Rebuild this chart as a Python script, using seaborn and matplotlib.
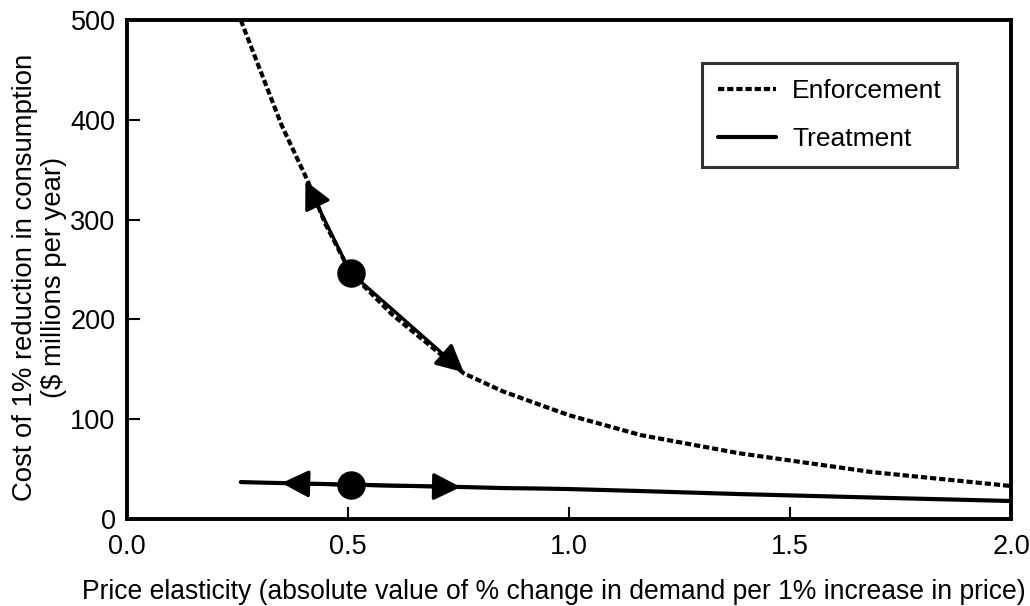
import pandas as pd
import matplotlib
matplotlib.use("Agg")
import matplotlib.pyplot as plt
from matplotlib.lines import Line2D
import seaborn as sns

# values
elasticity = [0.258, 0.30, 0.35, 0.408, 0.45, 0.506, 0.60, 0.762, 0.85, 0.937, 1.00, 1.163, 1.383, 1.685, 2.00]
enforcement = [500, 452, 395, 340, 295, 247, 205, 146, 128, 114, 104, 84, 66, 47, 33]
treatment = [37, 36.5, 36, 35.5, 35, 34.5, 33.5, 32, 31, 30.5, 30, 28, 25, 21.5, 18]

# point estimates at elasticity 0.5 and the arrow ends
enf_point = (0.506, 247)
enf_arrows = [(0.404, 339), (0.762, 147)]
trt_point = (0.506, 34)
trt_arrows = [(0.35, 36), (0.755, 32)]

df = pd.DataFrame({
    "Price elasticity": elasticity * 2,
    "Cost": enforcement + treatment,
    "Program": ["Enforcement"] * len(elasticity) + ["Treatment"] * len(elasticity),
})

sns.set_style("white")
plt.rcParams["font.family"] = ["Liberation Sans", "DejaVu Sans"]
plt.rcParams["text.color"] = "black"
plt.rcParams["axes.labelcolor"] = "black"
plt.rcParams["xtick.color"] = "black"
plt.rcParams["ytick.color"] = "black"

fig = plt.figure(figsize=(10.30, 6.06), dpi=100)
ax = fig.add_axes([0.123, 0.1436, 0.859, 0.823])

dash = (1.5, 0.7)
sns.lineplot(data=df, x="Price elasticity", y="Cost", hue="Program", style="Program",
             palette={"Enforcement": "black", "Treatment": "black"},
             dashes={"Enforcement": dash, "Treatment": ""},
             linewidth=3, ax=ax, legend=False)

for pt, ends in [(enf_point, enf_arrows), (trt_point, trt_arrows)]:
    for end in ends:
        ax.annotate("", xy=end, xytext=pt,
                    arrowprops=dict(arrowstyle="-|>", color="black", lw=2.4,
                                    mutation_scale=42, shrinkA=0, shrinkB=0))
    ax.scatter([pt[0]], [pt[1]], s=380, color="black", zorder=5)

ax.set_xlim(0, 2.0)
ax.set_ylim(0, 500)
ax.set_xticks([0.0, 0.5, 1.0, 1.5, 2.0])
ax.set_xticklabels(["0.0", "0.5", "1.0", "1.5", "2.0"])
ax.set_yticks([0, 100, 200, 300, 400, 500])
ax.tick_params(axis="both", direction="in", length=9, width=1.5, labelsize=19.5,
               bottom=True, left=True)
ax.tick_params(axis="x", pad=11)
ax.tick_params(axis="y", pad=8)
for s in ax.spines.values():
    s.set_visible(True)
    s.set_color("black")
    s.set_linewidth(2.8)

ax.set_xlabel("Price elasticity (absolute value of % change in demand per 1% increase in price)",
              fontsize=19.1)
ax.xaxis.set_label_coords(0.4825, -0.12)
ax.set_ylabel("Cost of 1% reduction in consumption\n($ millions per year)", fontsize=19.8,
              linespacing=1.15)
ax.yaxis.set_label_coords(-0.068, 0.484)

handles = [Line2D([], [], color="black", lw=3, dashes=dash),
           Line2D([], [], color="black", lw=3)]
leg = ax.legend(handles, ["Enforcement", "Treatment"], loc="upper right",
                bbox_to_anchor=(0.939, 0.9137), fontsize=19, frameon=True, fancybox=False,
                edgecolor="black", handlelength=2.2, borderpad=0.6, labelspacing=0.9,
                handletextpad=0.6, borderaxespad=0)
leg.get_frame().set_linewidth(2.2)

fig.savefig("out.png", dpi=100)
